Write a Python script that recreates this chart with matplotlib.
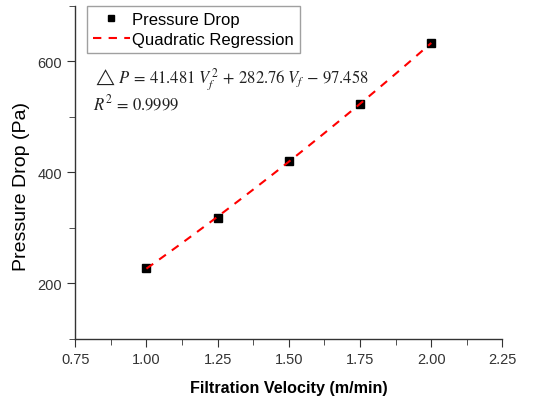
import numpy as np
import matplotlib
matplotlib.use('Agg')
import matplotlib.pyplot as plt
from matplotlib.ticker import MultipleLocator

plt.rcParams['font.family'] = ['Liberation Sans', 'DejaVu Sans']
plt.rcParams['mathtext.fontset'] = 'stix'

# measured data
velocity = [1.00, 1.25, 1.50, 1.75, 2.00]
pressure_drop = [227, 318, 421, 523, 633]

# quadratic regression through the points
coef = np.polyfit(velocity, pressure_drop, 2)
v_fit = np.linspace(velocity[0], velocity[-1], 100)
p_fit = np.polyval(coef, v_fit)

fig = plt.figure(figsize=(5.45, 4.02), dpi=100)
ax = fig.add_axes([0.138, 0.155, 0.784, 0.828])

ax.plot(velocity, pressure_drop, 's', color='black', markersize=6, label='Pressure Drop', zorder=2)
ax.plot(v_fit, p_fit, color='red', linewidth=1.5, dashes=(4, 3.5),
        label='Quadratic Regression', zorder=3)

ax.set_xlim(0.75, 2.25)
ax.set_ylim(100, 700)
ax.xaxis.set_major_locator(MultipleLocator(0.25))
ax.xaxis.set_minor_locator(MultipleLocator(0.125))
ax.yaxis.set_major_locator(MultipleLocator(200))
ax.yaxis.set_minor_locator(MultipleLocator(100))
ax.xaxis.set_major_formatter(matplotlib.ticker.FormatStrFormatter('%.2f'))

for s in ['top', 'right']:
    ax.spines[s].set_visible(False)
for s in ['left', 'bottom']:
    ax.spines[s].set_color('#333333')
    ax.spines[s].set_linewidth(1.0)

ax.tick_params(which='major', direction='out', length=6, color='#333333', labelsize=10.5, labelcolor='#333333')
ax.tick_params(which='minor', direction='out', length=4, color='#333333')

ax.set_xlabel('Filtration Velocity (m/min)', fontsize=11.6, fontweight='bold', labelpad=10)
ax.set_ylabel('Pressure Drop (Pa)', fontsize=14)
ax.yaxis.set_label_coords(-0.105, 0.46)

leg = ax.legend(loc='upper left', bbox_to_anchor=(0.028, 1.0), fontsize=12, fancybox=False,
                edgecolor='#888888', handlelength=2.2, handletextpad=0.15, borderpad=0.35,
                labelspacing=0.3, borderaxespad=0, markerscale=0.8)
leg.get_frame().set_linewidth(1.0)

ax.text(0.042, 0.78, r'$\triangle\,P\,=\,41.481\;V_f^{\,2}\,+\,282.76\;V_f\,-\,97.458$',
        transform=ax.transAxes, fontsize=12, color='#222222', va='center')
ax.text(0.042, 0.712, r'$R^2\,=\,0.9999$', transform=ax.transAxes, fontsize=12,
        color='#222222', va='center')

fig.savefig('out.png', dpi=100)
